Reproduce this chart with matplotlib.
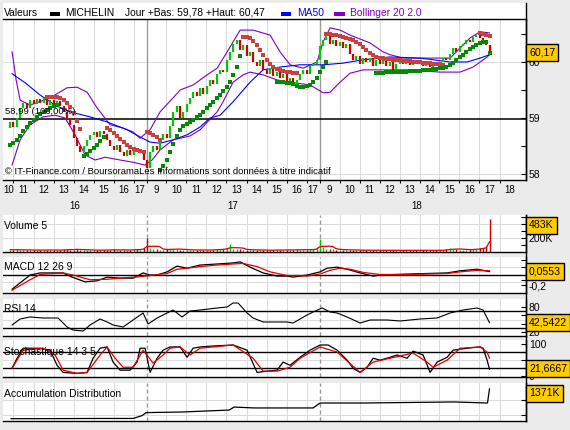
import numpy as np
import pandas as pd
import matplotlib
matplotlib.use("Agg")
import matplotlib.pyplot as plt
from matplotlib.patches import Rectangle
from matplotlib.lines import Line2D
from matplotlib.transforms import blended_transform_factory

plt.rcParams['font.family'] = ['Liberation Sans', 'DejaVu Sans']

# ---------------- data ----------------
days = ['16', '17', '18']
first_bar = ['10:50', '09:00', '09:00']       # 10-minute bars
open_16 = 58.82

close_16 = [58.93, 58.84, 59.00, 59.18, 59.27, 59.18, 59.32, 59.25, 59.34, 59.27,
            59.36, 59.23, 59.32, 59.25, 59.30, 59.21, 59.11, 59.00, 58.88, 58.64,
            58.50, 58.39, 58.50, 58.61, 58.70, 58.75, 58.66, 58.77, 58.71, 58.61,
            58.50, 58.43, 58.52, 58.39, 58.32, 58.43, 58.34, 58.46, 58.39, 58.43, 58.25]
close_17 = [58.11, 58.39, 58.50, 58.43, 58.61, 58.71, 58.64, 58.86, 59.11, 59.21,
            59.00, 59.11, 59.25, 59.36, 59.46, 59.39, 59.54, 59.43, 59.57, 59.68,
            59.61, 59.79, 59.86, 59.82, 60.04, 60.18, 60.32, 60.39, 60.21, 60.30,
            60.11, 60.18, 60.00, 59.93, 60.04, 59.86, 59.79, 59.89, 59.75, 59.82,
            59.71, 59.79, 59.64, 59.71, 59.57, 59.68, 59.79, 59.86, 59.79, 59.93,
            59.96, 60.04]
close_18 = [60.29, 60.39, 60.46, 60.32, 60.39, 60.29, 60.36, 60.25, 60.32, 60.14,
            60.04, 60.11, 59.96, 60.07, 60.00, 60.07, 59.93, 60.04, 59.96, 60.04,
            59.93, 60.00, 59.82, 59.96, 60.04, 59.96, 60.02, 59.95, 60.00, 59.96,
            60.02, 59.93, 59.98, 59.91, 59.98, 59.93, 60.00, 60.07, 60.04, 60.14,
            60.25, 60.18, 60.29, 60.32, 60.39, 60.36, 60.45, 60.48, 60.43, 60.36,
            60.30, 60.17]

vol_16 = [30, 25, 35, 20, 28, 22, 30, 18, 25, 20, 26, 32, 22, 18, 24, 20, 35, 40, 30, 28,
          38, 25, 30, 22, 20, 26, 18, 24, 30, 22, 28, 35, 20, 25, 30, 22, 26, 35, 40, 30, 60]
vol_17 = [200, 60, 40, 35, 30, 28, 35, 40, 45, 38, 30, 25, 28, 22, 30, 26, 20, 24, 28, 22,
          30, 35, 40, 45, 50, 112, 45, 40, 35, 30, 25, 22, 30, 26, 20, 24, 22, 18, 25, 30,
          22, 28, 20, 25, 30, 35, 28, 22, 30, 35, 40, 60]
vol_18 = [185, 70, 45, 40, 35, 30, 28, 25, 30, 22, 26, 20, 24, 18, 22, 20, 25, 18, 22, 20,
          24, 18, 20, 22, 18, 20, 24, 18, 22, 20, 18, 22, 25, 20, 18, 22, 24, 20, 45, 50,
          40, 35, 30, 28, 25, 35, 40, 45, 50, 60, 90, 483]

# parabolic-stop dots: (session, first bar, values)
sar_above = [
    (0, 11, [59.38, 59.38, 59.38, 59.37, 59.36, 59.32, 59.27, 59.20, 59.09, 58.95, 58.80]),
    (0, 29, [58.82, 58.79, 58.73, 58.68, 58.63, 58.57, 58.52, 58.48, 58.45, 58.43, 58.41, 58.39]),
    (1, 0, [58.75, 58.73, 58.70, 58.66, 58.61]),
    (1, 29, [60.45, 60.45, 60.43, 60.38, 60.30, 60.21, 60.13, 60.04, 59.96, 59.91, 59.88,
             59.86, 59.84, 59.82, 59.82, 59.80, 59.80]),
    (2, 2, [60.50, 60.50, 60.48, 60.48, 60.46, 60.45, 60.43, 60.41, 60.39, 60.36, 60.32, 60.27,
            60.21, 60.16, 60.13, 60.09, 60.07, 60.07, 60.05, 60.05, 60.04, 60.04, 60.04, 60.02,
            60.02, 60.02, 60.00, 60.00, 60.00, 59.98, 59.98, 59.98, 59.96, 59.96, 59.96, 59.95]),
    (2, 48, [60.52, 60.50, 60.48, 60.46]),
]
sar_below = [
    (0, 0, [58.52, 58.55, 58.61, 58.68, 58.77, 58.84, 58.91, 58.96, 59.02, 59.07, 59.11,
            59.14, 59.18, 59.21, 59.23]),
    (0, 22, [58.32, 58.36, 58.41, 58.46, 58.52, 58.59, 58.66]),
    (1, 4, [58.07, 58.14, 58.25, 58.39, 58.54, 58.68, 58.79, 58.86, 58.89, 58.93, 58.96, 59.02,
            59.05, 59.11, 59.18, 59.23, 59.29, 59.36, 59.41, 59.48, 59.55, 59.64, 59.77, 59.91,
            60.11]),
    (1, 39, [59.64, 59.64, 59.64, 59.63, 59.63, 59.61, 59.57, 59.55, 59.55, 59.57, 59.59,
             59.64, 59.71]),
    (2, 0, [59.82, 59.91, 60.00]),
    (2, 17, [59.80, 59.80, 59.80, 59.82, 59.82, 59.82, 59.82, 59.82, 59.82, 59.82, 59.84,
             59.84, 59.84, 59.84, 59.86, 59.86, 59.86, 59.88, 59.88, 59.89, 59.89, 59.91,
             59.95, 59.98, 60.04, 60.09, 60.13, 60.18, 60.23, 60.27, 60.30, 60.34, 60.36,
             60.36, 60.16]),
]

# indicator lines, x in trading hours since 16th 09:00
ma50_t = [1.93, 2.58, 3.33, 4.08, 4.83, 5.83, 6.68, 7.68, 8.33, 8.83, 9.33, 9.98, 10.68, 11.33,
          11.83, 12.33, 12.98, 13.83, 14.48, 15.33, 16.33, 17.48, 18.48, 19.48, 20.83, 22.33,
          23.83, 24.68, 25.33, 25.8]
ma50 = [59.79, 59.63, 59.41, 59.23, 59.11, 59.02, 58.93, 58.79, 58.66, 58.57, 58.55, 58.61,
        58.70, 58.84, 59.00, 59.05, 59.29, 59.64, 59.86, 59.91, 59.95, 59.95, 59.98, 60.04,
        60.09, 60.07, 60.00, 60.00, 60.07, 60.13]
bb_up_t = [1.93, 2.13, 2.33, 2.83, 3.83, 4.68, 5.18, 5.68, 6.18, 6.83, 7.48, 7.98, 8.33, 8.83,
           9.33, 9.98, 10.33, 10.98, 11.68, 12.18, 12.68, 13.18, 13.33, 13.98, 14.83, 15.33,
           15.83, 16.48, 17.18, 17.48, 17.83, 18.33, 18.83, 19.83, 20.48, 20.83, 21.48, 23.83,
           24.33, 24.83, 25.33, 25.8]
bb_up = [60.18, 59.68, 59.32, 59.23, 59.36, 59.54, 59.55, 59.46, 59.18, 58.88, 58.82, 58.75,
         58.64, 58.79, 59.11, 59.36, 59.50, 59.59, 59.77, 59.89, 60.18, 60.48, 60.57, 60.57,
         60.48, 60.18, 59.95, 59.89, 60.00, 60.36, 60.61, 60.57, 60.48, 60.34, 60.18, 60.13,
         60.07, 60.07, 60.25, 60.43, 60.54, 60.52]
bb_lo_t = [1.93, 2.33, 2.83, 3.48, 4.08, 4.58, 5.08, 5.58, 6.08, 6.58, 7.33, 7.98, 8.58, 8.93,
           9.33, 9.98, 10.83, 11.33, 12.18, 12.48, 12.98, 13.48, 13.83, 14.48, 15.18, 15.83,
           16.83, 17.48, 17.83, 18.33, 18.83, 19.48, 21.68, 23.33, 24.33, 24.98, 25.68, 25.8]
bb_lo = [58.16, 58.61, 58.88, 59.02, 59.05, 59.00, 58.70, 58.34, 58.25, 58.30, 58.25, 58.21,
         58.16, 58.25, 58.43, 58.61, 58.68, 58.79, 59.11, 59.29, 59.64, 59.77, 59.82, 59.77,
         59.68, 59.64, 59.59, 59.45, 59.46, 59.64, 59.80, 59.86, 59.86, 59.82, 59.82, 59.91,
         60.09, 60.13]

macd_t = [1.93, 2.33, 2.83, 3.33, 4.48, 4.93, 5.58, 6.18, 6.68, 7.33, 7.98, 8.48, 8.83, 9.18,
          9.68, 10.18, 10.68, 11.33, 12.18, 12.98, 13.33, 13.83, 14.48, 15.18, 15.68, 15.98,
          16.68, 17.33, 17.68, 18.18, 18.68, 19.33, 19.98, 20.33, 21.83, 23.68, 24.33, 25.18, 25.8]
macd = [-0.28, -0.16, -0.01, 0.03, 0.03, -0.05, -0.14, -0.12, -0.05, -0.07, -0.07, 0.03, -0.01,
        -0.01, 0.05, 0.16, 0.12, 0.18, 0.20, 0.22, 0.24, 0.14, 0.03, -0.03, -0.03, -0.05, -0.01,
        0.05, 0.12, 0.14, 0.10, 0.03, -0.03, -0.01, 0.01, 0.03, 0.07, 0.10, 0.0553]
sig_t = [1.93, 2.83, 3.33, 4.48, 5.08, 5.83, 6.68, 7.33, 8.33, 8.83, 9.68, 10.18, 10.68, 11.33,
         12.18, 12.98, 13.48, 14.18, 14.83, 15.68, 16.68, 17.33, 17.83, 18.33, 18.83, 19.48,
         20.33, 21.83, 23.68, 24.33, 25.18, 25.8]
sig = [-0.30, -0.10, 0.00, 0.03, -0.02, -0.10, -0.09, -0.07, -0.04, -0.02, 0.02, 0.10, 0.12,
       0.15, 0.18, 0.20, 0.21, 0.15, 0.05, -0.02, -0.03, 0.01, 0.08, 0.12, 0.10, 0.04, 0.00,
       0.00, 0.02, 0.05, 0.08, 0.07]

rsi_t = [1.93, 2.33, 2.83, 3.48, 4.23, 4.68, 4.98, 5.48, 5.83, 6.33, 6.68, 6.98, 7.48, 7.98,
         8.48, 8.73, 9.18, 9.68, 9.98, 10.43, 10.83, 11.33, 12.18, 12.68, 12.98, 13.23, 13.68,
         13.98, 14.48, 14.98, 15.68, 15.98, 16.68, 16.98, 17.43, 17.83, 18.18, 18.68, 19.33,
         19.83, 20.68, 21.33, 22.33, 23.18, 23.83, 24.48, 25.18, 25.48, 25.68, 25.8]
rsi = [36.8, 51.2, 56.0, 53.6, 53.6, 32.0, 24.8, 22.4, 36.8, 51.2, 44.0, 36.8, 32.0, 48.8,
       65.6, 39.2, 53.6, 65.6, 72.8, 56.0, 70.4, 72.8, 77.6, 80.0, 89.6, 89.6, 65.6, 53.6,
       44.0, 44.0, 44.0, 41.6, 60.8, 68.0, 77.6, 68.0, 65.6, 56.0, 41.6, 48.8, 48.8, 46.4,
       51.2, 53.6, 65.6, 72.8, 77.6, 72.8, 53.6, 42.5422]

stk_t = [1.93, 2.18, 2.48, 3.33, 3.83, 4.18, 4.48, 5.18, 5.68, 5.98, 6.33, 6.68, 6.98, 7.33,
         7.83, 8.18, 8.33, 8.58, 8.83, 9.18, 9.48, 9.83, 10.33, 10.68, 10.98, 11.33, 11.98,
         12.98, 13.68, 14.18, 14.68, 15.18, 15.48, 15.83, 16.33, 16.83, 17.33, 17.73, 18.18,
         18.68, 18.98, 19.33, 19.68, 19.98, 20.33, 20.83, 21.18, 21.68, 21.98, 22.48, 22.83,
         23.18, 23.68, 23.98, 24.68, 25.33, 25.48, 25.68, 25.8]
stk = [25, 56, 87, 87, 81, 34, 12, 9, 12, 56, 87, 91, 44, 19, 19, 44, 87, 87, 12, 56,
       81, 91, 91, 59, 87, 91, 94, 97, 81, 12, 16, 19, 44, 34, 59, 81, 97, 97, 81, 50,
       25, 12, 28, 56, 50, 59, 66, 56, 78, 66, 12, 44, 59, 81, 87, 91, 87, 50, 21.6667]
std_t = [1.93, 2.48, 3.48, 4.08, 4.48, 5.18, 5.68, 6.33, 6.68, 7.08, 7.48, 7.98, 8.48, 8.98,
         9.48, 9.83, 10.33, 10.83, 11.33, 12.98, 13.98, 14.48, 15.18, 15.83, 16.33, 17.33,
         18.18, 19.33, 19.98, 20.83, 21.98, 22.68, 22.98, 23.68, 24.33, 25.33, 25.68, 25.8]
std = [25, 81, 87, 66, 19, 9, 12, 66, 91, 56, 28, 28, 81, 41, 66, 87, 91, 66, 87, 97,
       56, 16, 16, 28, 56, 91, 75, 12, 44, 56, 72, 44, 28, 50, 87, 91, 75, 56]

ad_t = [1.88, 4.33, 6.33, 7.98, 8.43, 8.63, 10.43, 12.78, 13.03, 14.03, 16.98, 17.33, 19.53,
        24.03, 25.7, 25.8]
ad = [377, 380, 385, 385, 480, 580, 600, 665, 765, 735, 735, 900, 900, 935, 900, 1371]

ref_price = 58.99
day_low, day_high = 59.78, 60.47

# ---------------- layout helpers ----------------
W, H = 570, 430
DAY_LEN = 8.65
T_LEFT, T_RIGHT = 1.475, 27.625
BG = '#ebebeb'
GREEN, RED = '#00c800', '#d00000'
DOT_G, DOT_R = '#008a00', '#c84040'
PURPLE = '#8000c0'

fig = plt.figure(figsize=(W / 100, H / 100), dpi=100, facecolor=BG)

def fx(px):
    return px / W

def fy(py):
    return 1 - py / H

def rect(top, bottom, left=3, right=526):
    return [left / W, 1 - bottom / H, (right - left) / W, (bottom - top) / H]

def fmt(v, nd):
    return f"{v:.{nd}f}".replace('.', ',')

# bar times
bar_t = []
for d, (start, cl) in enumerate(zip(first_bar, [close_16, close_17, close_18])):
    h, m = map(int, start.split(':'))
    t0 = d * DAY_LEN + (h - 9) + m / 60
    bar_t.append(t0 + np.arange(len(cl)) / 6.0)
t_all = np.concatenate(bar_t)
closes = np.array(close_16 + close_17 + close_18)
opens = np.concatenate([[open_16], closes[:-1]])
vols = np.array(vol_16 + vol_17 + vol_18, dtype=float)
up = closes >= opens
vol_ma = pd.Series(vols).rolling(5, min_periods=1).mean().values

day_starts = [DAY_LEN, 2 * DAY_LEN]
grid_t = [h - 9 for h in range(11, 18)] + \
         [DAY_LEN + h - 9 for h in range(10, 18)] + \
         [2 * DAY_LEN + h - 9 for h in range(10, 19)]

def seg_points(segments):
    ts, vs = [], []
    for d, s, vals in segments:
        ts.extend(bar_t[d][s:s + len(vals)])
        vs.extend(vals)
    return ts, vs

def style(a, dashed_days=True, top=False):
    a.set_xlim(T_LEFT, T_RIGHT)
    a.set_facecolor('white')
    a.spines['left'].set_visible(False)
    a.spines['top'].set_visible(top)
    for s in ['bottom', 'right', 'top']:
        a.spines[s].set_color('black')
        a.spines[s].set_linewidth(1.0)
    a.yaxis.tick_right()
    a.tick_params(axis='y', which='both', direction='in', length=3.5, width=0.8,
                  pad=2, labelsize=7.5, colors='black')
    a.tick_params(axis='x', which='both', bottom=False, labelbottom=False)
    for g in grid_t:
        a.axvline(g, color='#dcdcdc', lw=0.8, zorder=0)
    for d in day_starts:
        a.axvline(d, color='#9a9a9a', lw=1.0, ls=(0, (3, 2)) if dashed_days else '-', zorder=0.5)

# header band
fig.add_artist(Rectangle((fx(3), fy(19)), fx(526) - fx(3), fy(3) - fy(19),
                         transform=fig.transFigure, facecolor='white', edgecolor='none', zorder=0))

# ---------------- main price panel ----------------
ax = fig.add_axes(rect(19, 180))
style(ax, dashed_days=False, top=True)
ax.set_ylim(57.893, 60.768)
ax.set_yticks([58, 59, 60])
ax.set_yticklabels(['58', '59', '60'])
ax.set_yticks([58.5, 59.5, 60.5], minor=True)
for g in [58, 60]:
    ax.axhline(g, color='#dcdcdc', lw=0.8, zorder=0)
ax.axhline(ref_price, color='black', lw=1.1, zorder=1)
ax.set_xticks(grid_t + day_starts)
ax.tick_params(axis='x', which='major', bottom=True, direction='out', length=2.5, width=0.8)

ax.plot(bb_up_t, bb_up, color=PURPLE, lw=0.8, zorder=2)
ax.plot(bb_lo_t, bb_lo, color=PURPLE, lw=0.8, zorder=2)
ax.plot(ma50_t, ma50, color='#0000ff', lw=0.8, zorder=2)
ax.vlines(t_all, opens, closes, colors=np.where(up, GREEN, RED), lw=1.6, zorder=3)
ta, va = seg_points(sar_above)
tb, vb = seg_points(sar_below)
ax.scatter(ta, va, marker='s', s=5, color=DOT_R, linewidths=0, zorder=4)
ax.scatter(tb, vb, marker='s', s=5, color=DOT_G, linewidths=0, zorder=4)

fig.text(fx(5), fy(111.5), f"{fmt(ref_price, 2)} (100,00%)", fontsize=6.8,
         ha='left', va='center', zorder=5)
fig.text(fx(5), fy(172), "© IT-Finance.com / BoursoramaLes Informations sont données à titre indicatif",
         fontsize=6.8, ha='left', va='center', zorder=5)

# x labels (hours and days)
tr = blended_transform_factory(ax.transData, fig.transFigure)
bounds = [[T_LEFT] + [h - 9 for h in range(11, 18)] + [DAY_LEN],
          [DAY_LEN + h - 9 for h in range(9, 18)] + [2 * DAY_LEN],
          [2 * DAY_LEN + h - 9 for h in range(9, 19)] + [2 * DAY_LEN + 10]]
first_hours = [10, 9, 9]
for d in range(3):
    b = bounds[d]
    for k in range(len(b) - 1):
        fig.text((b[k] + b[k + 1]) / 2, fy(190), str(first_hours[d] + k), transform=tr,
                 ha='center', va='center', fontsize=7)
for d, tc in zip(days, [5.06, 12.98, 22.18]):
    fig.text(tc, fy(206), d, transform=tr, ha='center', va='center', fontsize=7)

# header legend
fig.text(fx(4), fy(12.5), "Valeurs", fontsize=7.4, ha='left', va='center')
fig.add_artist(Rectangle((fx(50), fy(15.7)), fx(10), 3.4 / H, transform=fig.transFigure,
                         facecolor='black', edgecolor='none'))
fig.text(fx(65), fy(12.5), "MICHELIN", fontsize=7.4, ha='left', va='center')
fig.text(fx(125), fy(12.5), f"Jour +Bas: {fmt(day_low, 2)} +Haut: {fmt(day_high, 2)}",
         fontsize=7.4, ha='left', va='center')
fig.add_artist(Rectangle((fx(281), fy(15.7)), fx(10), 3.4 / H, transform=fig.transFigure,
                         facecolor='#0000ff', edgecolor='none'))
fig.text(fx(297), fy(12.5), "MA50", fontsize=7.4, ha='left', va='center', color='#0000ff')
fig.add_artist(Rectangle((fx(334), fy(15.7)), fx(11), 3.4 / H, transform=fig.transFigure,
                         facecolor=PURPLE, edgecolor='none'))
fig.text(fx(350), fy(12.5), "Bollinger 20 2.0", fontsize=7.4, ha='left', va='center', color=PURPLE)

# ---------------- volume ----------------
axv = fig.add_axes(rect(215, 251.7))
style(axv)
axv.set_ylim(0, 536)
axv.set_yticks([100, 200, 300, 400, 500])
axv.set_yticklabels(['', '200K', '', '400K', ''])
for g in [200, 400]:
    axv.axhline(g, color='#dcdcdc', lw=0.8, zorder=0)
axv.vlines(t_all, 0, vols, colors=np.where(up, GREEN, RED), lw=1.0, zorder=2)
axv.plot(t_all, vol_ma, color='#e00000', lw=0.9, zorder=3)

# ---------------- MACD ----------------
axm = fig.add_axes(rect(257, 293))
style(axm)
axm.set_ylim(-0.352, 0.333)
axm.set_yticks([0.28, 0.14, -0.1, -0.2])
axm.set_yticklabels(['', '', '', '-0,2'])
for g in [0.15, -0.15]:
    axm.axhline(g, color='#dcdcdc', lw=0.8, zorder=0)
axm.axhline(0, color='black', lw=1.0, zorder=1)
axm.plot(macd_t, macd, color='black', lw=0.9, zorder=3)
axm.plot(sig_t, sig, color='#e00000', lw=0.9, zorder=3)

# ---------------- RSI ----------------
axr = fig.add_axes(rect(299, 336))
style(axr)
axr.set_ylim(10.4, 99.2)
axr.set_yticks([80, 60, 40, 20])
axr.set_yticklabels(['80', '', '', '20'])
axr.axhline(50, color='#dcdcdc', lw=0.8, zorder=0)
for g in [70, 30]:
    axr.axhline(g, color='black', lw=1.0, zorder=1)
axr.plot(rsi_t, rsi, color='black', lw=0.8, zorder=3)

# ---------------- Stochastic ----------------
axs = fig.add_axes(rect(340, 377))
style(axs)
axs.set_ylim(-2.2, 112.5)
axs.set_yticks([100, 75, 50, 25, 0])
axs.set_yticklabels(['100', '', '', '', '0'])
axs.axhline(50, color='#dcdcdc', lw=0.8, zorder=0)
for g in [75, 25]:
    axs.axhline(g, color='black', lw=1.0, zorder=1)
axs.plot(stk_t, stk, color='black', lw=0.9, zorder=3)
axs.plot(std_t, std, color='#e00000', lw=0.9, zorder=3)

# ---------------- Accumulation / Distribution ----------------
axa = fig.add_axes(rect(383, 421))
style(axa)
axa.set_ylim(300, 1567)
axa.set_yticks([500, 1000])
axa.set_yticklabels(['', ''])
for g in [500, 1000]:
    axa.axhline(g, color='#dcdcdc', lw=0.8, zorder=0)
axa.plot(ad_t, ad, color='black', lw=0.9, zorder=3)

# panel titles
for py, title in [(225.7, "Volume 5"), (267.3, "MACD 12 26 9"), (309, "RSI 14"),
                  (352.3, "Stochastique 14 3 5"), (394, "Accumulation Distribution")]:
    fig.text(fx(4), fy(py), title, fontsize=7.5, ha='left', va='center', zorder=6)

# continuous right border
fig.add_artist(Line2D([fx(526), fx(526)], [fy(3), fy(180)], transform=fig.transFigure,
                      color='black', lw=1.0))
fig.add_artist(Line2D([fx(526), fx(526)], [fy(215), fy(421)], transform=fig.transFigure,
                      color='black', lw=1.0))

# last-value boxes
fig.canvas.draw()
def value_box(a, value, text, top_px, bot_px):
    ypix = a.transData.transform((T_LEFT, value))[1]
    ypx = H - ypix
    hbox = 17
    cy = min(max(ypx, top_px + 2 + hbox / 2), bot_px - hbox / 2)
    fig.text(fx(529), fy(cy), text, fontsize=7.6, ha='left', va='center', zorder=20,
             bbox=dict(boxstyle='square,pad=0.3', facecolor='#ffcc00', edgecolor='black', lw=1.0))

value_box(ax, closes[-1], fmt(closes[-1], 2), 19, 180)
value_box(axv, vols[-1], f"{int(vols[-1])}K", 215, 251.7)
value_box(axm, macd[-1], fmt(macd[-1], 4), 257, 293)
value_box(axr, rsi[-1], fmt(rsi[-1], 4), 299, 336)
value_box(axs, stk[-1], fmt(stk[-1], 4), 340, 377)
value_box(axa, ad[-1], f"{ad[-1]}K", 383, 421)

fig.savefig("out.png", dpi=100, facecolor=BG)
